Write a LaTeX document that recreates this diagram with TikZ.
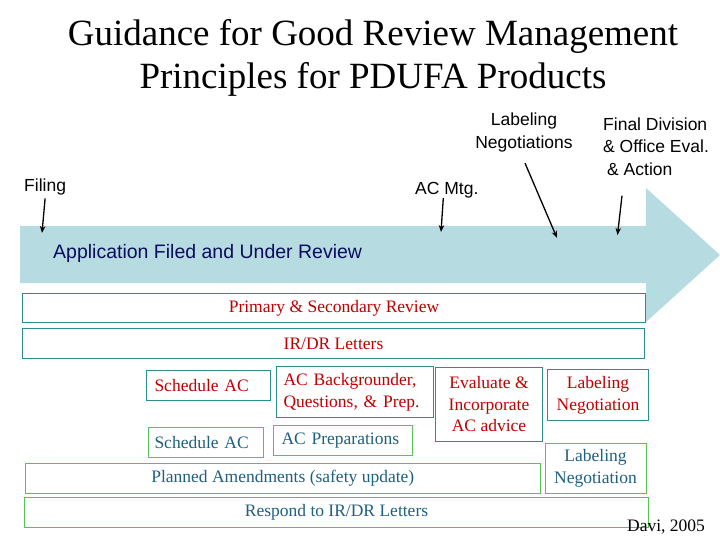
\documentclass[tikz,border=0pt]{standalone}
\usepackage{fontspec}
\setmainfont{Liberation Serif}
\setsansfont{Liberation Sans}
\usetikzlibrary{arrows.meta}
\definecolor{band}{HTML}{B6DCE2}
\definecolor{rtxt}{HTML}{C00000}
\definecolor{ttxt}{HTML}{1F5F7F}
\definecolor{tln}{HTML}{2F8C8C}
\definecolor{gln}{HTML}{55C455}
\definecolor{navy}{HTML}{0C0C5C}
\tikzset{
  bx/.style={draw, line width=1pt, anchor=north west, inner sep=0pt, align=center, font=\fontsize{17.5}{22}\selectfont},
  rbx/.style={bx, draw=tln, text=rtxt},
  gbx/.style={bx, draw=gln, text=ttxt},
  lbl/.style={font=\sffamily\fontsize{17.5}{22.5}\selectfont, inner sep=0pt, align=center},
  ptr/.style={-{Stealth[length=7pt, width=5.5pt]}, line width=1.3pt}}

\begin{document}
\begin{tikzpicture}[x=1pt, y=-1pt]
\useasboundingbox (0,0) rectangle (720,540);
\node[align=center, inner sep=0pt, font=\fontsize{37}{43}\selectfont] (ttl) at (373,58) {Guidance for Good Review Management\\Principles for PDUFA Products};
% timeline band
\fill[band] (20,226) -- (646,226) -- (646,188) -- (720,255) -- (646,322) -- (646,283) -- (20,283) -- cycle;
\node[anchor=west, inner sep=0pt, text=navy, font=\sffamily\fontsize{19.5}{22}\selectfont] (app) at (53,253) {Application Filed and Under Review};
% milestones
\node[lbl, anchor=west] (fil) at (24,187) {Filing};
\node[lbl, anchor=west] (acm) at (415,190) {AC Mtg.};
\node[lbl] (lneg) at (524,132.5) {Labeling\\Negotiations};
\node[lbl, anchor=west, align=left] (fin) at (603,146.5) {Final Division\\\& Office Eval.\\\hspace{4pt}\& Action};
\coordinate (filTip) at (42,233);
\coordinate (acmTip) at (441,232);
\coordinate (lnegTip) at (557,238);
\coordinate (finTip) at (617.5,235);
\draw[ptr] ([yshift=-3pt]fil.south) -- (filTip);
\draw[ptr] ([xshift=-3.5pt]acm.south) -- (acmTip);
\draw[ptr] ([xshift=1pt, yshift=-11pt]lneg.south) -- (lnegTip);
\draw[ptr] ([xshift=19pt, yshift=-20pt]fin.south west) -- (finTip);
% review tasks
\node[rbx, minimum width=623pt, minimum height=29pt] (pri) at (22,293) {Primary \& Secondary Review};
\node[rbx, minimum width=622pt, minimum height=30pt] (irdr) at (22,328) {IR/DR Letters};
\node[rbx, align=left, inner xsep=8pt, text width=108pt, minimum height=30pt] (schr) at (146,370) {Schedule AC};
\node[rbx, align=left, inner xsep=7pt, text width=142.5pt, minimum height=51pt] (bgr) at (276,366) {AC Backgrounder,\\Questions, \& Prep.};
\node[rbx, minimum width=107pt, minimum height=74pt, font=\fontsize{17.5}{21.5}\selectfont] (evl) at (435,367) {Evaluate \&\\Incorporate\\AC advice};
\node[rbx, minimum width=101pt, minimum height=51pt] (lnr) at (547,369) {Labeling\\Negotiation};
% sponsor tasks
\node[gbx, align=left, inner xsep=6pt, text width=103pt, minimum height=30pt] (schg) at (148,427) {Schedule AC};
\node[gbx, align=left, inner xsep=8pt, text width=123pt, minimum height=30pt] (prep) at (273,425) {AC Preparations};
\node[gbx, minimum width=101pt, minimum height=50pt] (lng) at (544.5,443) {Labeling\\Negotiation};
\node[gbx, minimum width=514.5pt, minimum height=30pt] (amd) at (25,463) {Planned Amendments (safety update)};
\node[gbx, minimum width=624pt, minimum height=30pt] (rsp) at (24,497) {Respond to IR/DR Letters};
\node[anchor=west, inner sep=0pt, font=\fontsize{17.5}{20}\selectfont] (src) at (627,527) {Davi, 2005};
\end{tikzpicture}
\end{document}
